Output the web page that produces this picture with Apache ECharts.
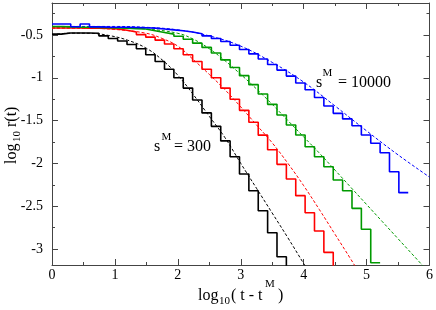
<!DOCTYPE html>
<html><head><meta charset="utf-8">
<script src="https://cdn.jsdelivr.net/npm/echarts@6/dist/echarts.min.js"></script>
<style>html,body{margin:0;padding:0;background:#fff}#c{width:436px;height:310px}</style>
</head><body><div id="c"></div>
<script>
// common log-bin edges (log10(t - t^M))
const xEdges = [0, 0.149, 0.298, 0.447, 0.596, 0.745, 0.894, 1.043, 1.192, 1.341, 1.490, 1.639, 1.788, 1.937, 2.086, 2.235, 2.384, 2.533, 2.682, 2.831, 2.980, 3.129, 3.278, 3.427, 3.576, 3.725, 3.874, 4.023, 4.172, 4.321, 4.470, 4.619, 4.768, 4.917, 5.066, 5.215, 5.364, 5.513, 5.662];

// step (histogram) levels per bin, log10 r(t)
const blackLevels = [-0.49, -0.477, -0.477, -0.477, -0.48, -0.51, -0.54, -0.57, -0.61, -0.66, -0.73, -0.81, -0.90, -1.00, -1.12, -1.26, -1.41, -1.567, -1.737, -1.922, -2.124, -2.319, -2.553, -2.81, -3.09];
const redLevels = [-0.418, -0.418, -0.418, -0.42, -0.42, -0.422, -0.43, -0.445, -0.465, -0.495, -0.525, -0.56, -0.605, -0.66, -0.73, -0.81, -0.9, -1.0, -1.12, -1.25, -1.38, -1.52, -1.67, -1.84, -2.011, -2.182, -2.377, -2.576, -2.79, -3.039];
const greenLevels = [-0.40, -0.405, -0.408, -0.41, -0.412, -0.415, -0.418, -0.42, -0.425, -0.43, -0.45, -0.47, -0.49, -0.515, -0.55, -0.595, -0.645, -0.71, -0.79, -0.88, -0.975, -1.08, -1.19, -1.31, -1.435, -1.551, -1.668, -1.805, -1.922, -2.039, -2.194, -2.319, -2.525, -2.77, -3.16];
const blueLevels = [-0.371, -0.371, -0.403, -0.371, -0.405, -0.408, -0.41, -0.41, -0.412, -0.415, -0.42, -0.43, -0.44, -0.45, -0.465, -0.485, -0.51, -0.54, -0.575, -0.62, -0.67, -0.72, -0.78, -0.845, -0.91, -0.98, -1.06, -1.14, -1.23, -1.33, -1.415, -1.48, -1.56, -1.668, -1.765, -1.875, -2.097, -2.342];

// fitted (dashed) curves
const blackFitX = [0, 0.3, 0.6, 0.9, 1.2, 1.5, 1.75, 2.0, 2.25, 2.5, 2.75, 3.0, 3.25, 3.5, 3.75, 4.0, 4.05];
const blackFitY = [-0.497, -0.478, -0.48, -0.505, -0.56, -0.655, -0.79, -0.97, -1.2, -1.45, -1.70, -2.0, -2.29, -2.58, -2.87, -3.17, -3.23];
const redFitX = [0, 0.5, 1.0, 1.5, 1.75, 2.0, 2.25, 2.5, 2.75, 3.0, 3.25, 3.5, 3.75, 4.0, 4.25, 4.5, 4.75, 4.85];
const redFitY = [-0.42, -0.42, -0.435, -0.48, -0.54, -0.63, -0.79, -0.96, -1.14, -1.34, -1.55, -1.76, -2.0, -2.26, -2.54, -2.83, -3.12, -3.24];
const greenFitX = [0, 1.0, 1.5, 2.0, 2.25, 2.5, 2.75, 3.0, 3.25, 3.5, 3.75, 4.0, 4.25, 4.5, 4.75, 5.0, 5.25, 5.5, 5.75, 5.95];
const greenFitY = [-0.41, -0.415, -0.43, -0.48, -0.55, -0.66, -0.80, -0.96, -1.13, -1.31, -1.50, -1.69, -1.88, -2.08, -2.28, -2.48, -2.68, -2.88, -3.08, -3.24];
const blueFitX = [0, 1.0, 1.5, 2.0, 2.5, 3.0, 3.5, 4.0, 4.5, 5.0, 5.5, 6.0];
const blueFitY = [-0.40, -0.40, -0.41, -0.44, -0.51, -0.63, -0.82, -1.05, -1.33, -1.62, -1.90, -2.16];

// ticks
const xMajor = [0, 1, 2, 3, 4, 5, 6];
const xMinor = [0.5, 1.5, 2.5, 3.5, 4.5, 5.5];
const yMajor = [-3, -2.5, -2, -1.5, -1, -0.5];
const yMinor = [-2.75, -2.25, -1.75, -1.25, -0.75, -0.25];
const X_MIN = 0, X_MAX = 6, Y_MIN = -3.187, Y_MAX = -0.126;

const FONT = 'Liberation Serif';
const AXC = '#444';

function stepData(levels, drop) {
  const d = levels.map((v, i) => [xEdges[i], v]);
  d.push([xEdges[levels.length], levels[levels.length - 1]]);
  if (drop) d.push([xEdges[levels.length], Y_MIN - 1]);
  return d;
}
function fitData(xs, ys) { return xs.map((x, i) => [x, ys[i]]); }

function xAx(pos, ticks, len, line, labels) {
  return {
    type: 'value', position: pos, min: X_MIN, max: X_MAX,
    axisLine: { show: line, onZero: false, lineStyle: { color: AXC, width: 1 } },
    axisTick: { show: true, inside: true, length: len, customValues: ticks, lineStyle: { color: AXC } },
    axisLabel: labels ? { show: true, customValues: ticks, margin: 3, fontFamily: FONT, fontSize: 14, color: '#000' } : { show: false },
    splitLine: { show: false }
  };
}
function yAx(pos, ticks, len, line, labels) {
  return {
    type: 'value', position: pos, min: Y_MIN, max: Y_MAX,
    axisLine: { show: line, onZero: false, lineStyle: { color: AXC, width: 1 } },
    axisTick: { show: true, inside: true, length: len, customValues: ticks, lineStyle: { color: AXC } },
    axisLabel: labels ? { show: true, customValues: ticks, margin: 9, fontFamily: FONT, fontSize: 14, color: '#000' } : { show: false },
    splitLine: { show: false }
  };
}

function stepSeries(levels, color, drop) {
  return { type: 'line', step: 'end', data: stepData(levels, drop), showSymbol: false, symbol: 'none',
    lineStyle: { color: color, width: 1.6 }, clip: true, z: 3 };
}
function fitSeries(xs, ys, color) {
  return { type: 'line', smooth: 0.4, data: fitData(xs, ys), showSymbol: false, symbol: 'none',
    lineStyle: { color: color, width: 1, type: [3, 2] }, clip: true, z: 2 };
}

function txt(x, y, s, size, align) {
  return { type: 'text', x: x, y: y, style: { text: s, font: size + 'px "' + FONT + '"', fill: '#000', textAlign: align || 'left', textVerticalAlign: 'middle' } };
}
function rtxt(x, y, s, size) {
  return { type: 'text', x: x, y: y, rotation: Math.PI / 2, style: { text: s, font: size + 'px "' + FONT + '"', fill: '#000', textAlign: 'left', textVerticalAlign: 'middle' } };
}

const chart = echarts.init(document.getElementById('c'), null, { renderer: 'canvas' });
chart.setOption({
  animation: false,
  backgroundColor: '#fff',
  grid: { left: 52, right: 6, top: 3, bottom: 45, containLabel: false },
  xAxis: [
    xAx('bottom', xMajor, 6, true, true),
    xAx('bottom', xMinor, 3, false, false),
    xAx('top', xMajor, 6, true, false),
    xAx('top', xMinor, 3, false, false)
  ],
  yAxis: [
    yAx('left', yMajor, 6, true, true),
    yAx('left', yMinor, 3, false, false),
    yAx('right', yMajor, 6, true, false),
    yAx('right', yMinor, 3, false, false)
  ],
  series: [
    fitSeries(blackFitX, blackFitY, '#000000'),
    fitSeries(redFitX, redFitY, '#ff0000'),
    fitSeries(greenFitX, greenFitY, '#009a00'),
    fitSeries(blueFitX, blueFitY, '#0000ff'),
    stepSeries(blackLevels, '#000000', true),
    stepSeries(redLevels, '#ff0000', true),
    stepSeries(greenLevels, '#009a00', false),
    stepSeries(blueLevels, '#0000ff', false)
  ],
  graphic: [
    // s^M = 10000
    txt(316, 83, 's', 16), txt(322.5, 73, 'M', 11), txt(338, 83, '= 10000', 16),
    // s^M = 300
    txt(154, 147, 's', 16), txt(161.5, 137, 'M', 11), txt(174, 147, '= 300', 16),
    // x axis title: log10( t - t^M )
    txt(198, 296, 'log', 16), txt(219, 301, '10', 11), txt(231, 296, '( t - t', 16), txt(265, 284, 'M', 11), txt(278, 296, ')', 16),
    // y axis title: log10 r(t)
    rtxt(12, 164, 'log', 16), rtxt(17, 142, '10', 11), rtxt(12, 127, 'r(t)', 16)
  ]
});
</script></body></html>
